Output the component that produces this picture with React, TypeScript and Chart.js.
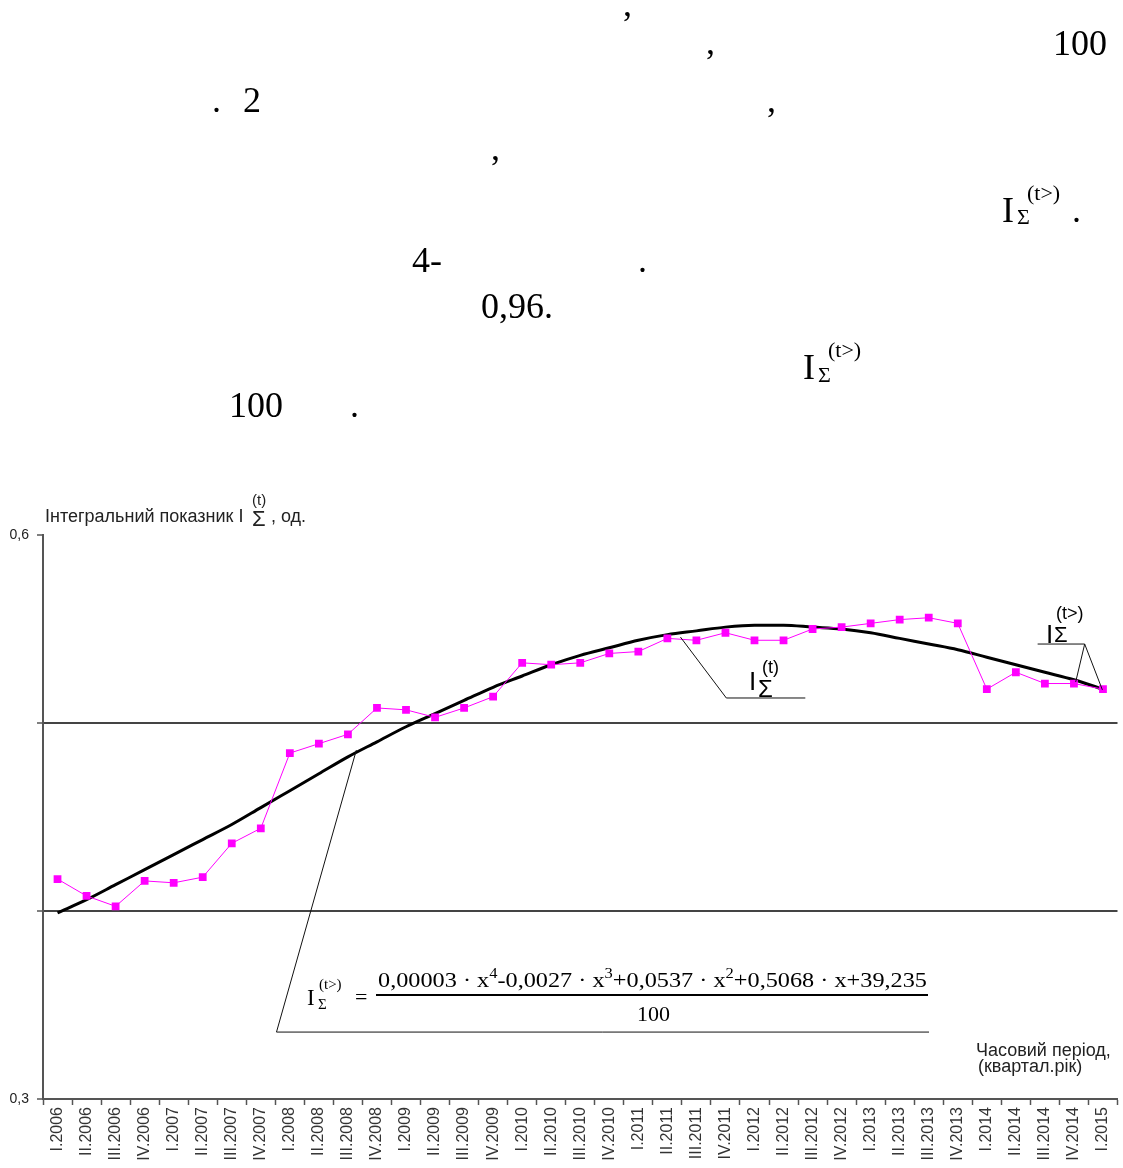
import React, { useEffect, useLayoutEffect, useRef } from 'react';
import { Chart, registerables } from 'chart.js';

Chart.register(...registerables);

// ---------- data ----------
const periodLabels = [
  'I.2006', 'II.2006', 'III.2006', 'IV.2006',
  'I.2007', 'II.2007', 'III.2007', 'IV.2007',
  'I.2008', 'II.2008', 'III.2008', 'IV.2008',
  'I.2009', 'II.2009', 'III.2009', 'IV.2009',
  'I.2010', 'II.2010', 'III.2010', 'IV.2010',
  'I.2011', 'II.2011', 'III.2011', 'IV.2011',
  'I.2012', 'II.2012', 'III.2012', 'IV.2012',
  'I.2013', 'II.2013', 'III.2013', 'IV.2013',
  'I.2014', 'II.2014', 'III.2014', 'IV.2014',
  'I.2015',
];

// I_Σ^(t) — integral indicator (magenta)
const actualIndex = [
  0.417, 0.408, 0.4025, 0.416,
  0.415, 0.418, 0.436, 0.444,
  0.484, 0.489, 0.494, 0.508,
  0.507, 0.503, 0.508, 0.514,
  0.532, 0.531, 0.532, 0.537,
  0.538, 0.545, 0.544, 0.548,
  0.544, 0.544, 0.550, 0.551,
  0.553, 0.555, 0.556, 0.553,
  0.518, 0.527, 0.521, 0.521,
  0.518,
];

// I_Σ^(t>) — 4th-degree trend (black)
const trendIndex = [
  0.399, 0.406, 0.414, 0.422,
  0.430, 0.438, 0.446, 0.455,
  0.464, 0.473, 0.482, 0.490,
  0.498, 0.505, 0.512, 0.519,
  0.525, 0.531, 0.536, 0.540,
  0.544, 0.547, 0.549, 0.551,
  0.552, 0.552, 0.551, 0.550,
  0.548, 0.545, 0.542, 0.539,
  0.535, 0.531, 0.527, 0.523,
  0.518,
];

const yMin = 0.3;
const yMax = 0.6;
const yStep = 0.1;
const yLabelledTicks = [0.3, 0.6];
const yGridTicks = [0.4, 0.5];

// callout guide lines in (category index, value) coordinates
const calloutGuides: [number, number][][] = [
  [[10.29, 0.4856], [7.54, 0.3356], [30.01, 0.3356]],
  [[21.45, 0.5457], [23.03, 0.5133], [25.75, 0.5133]],
  [[33.75, 0.542], [35.37, 0.542], [35.06, 0.5218]],
  [[35.37, 0.542], [35.98, 0.5176]],
];

// ---------- text helpers ----------
const SERIF = '"Liberation Serif", "Times New Roman", serif';
const SANS = '"Liberation Sans", Arial, sans-serif';

function topFor(b: number, size: number, font: string) {
  const serif = font === SERIF;
  const asc = serif ? 0.891 : 0.905;
  const desc = serif ? 0.216 : 0.212;
  return b - ((1 - asc - desc) / 2 + asc) * size;
}

function Txt({ x, b, size, font = SERIF, color = '#000', children, style }: any) {
  return (
    <div
      style={{
        position: 'absolute',
        left: x,
        top: topFor(b, size, font),
        fontFamily: font,
        fontSize: size,
        lineHeight: `${size}px`,
        whiteSpace: 'nowrap',
        color,
        ...style,
      }}
    >
      {children}
    </div>
  );
}

function FitText({ x, b, size, width, font = SERIF, children }: any) {
  const ref = useRef<HTMLDivElement>(null);
  useLayoutEffect(() => {
    const el = ref.current;
    if (!el) return;
    el.style.transform = 'none';
    const w = el.getBoundingClientRect().width;
    if (w > 0) el.style.transform = `scaleX(${width / w})`;
  }, [width]);
  return (
    <div
      ref={ref}
      style={{
        position: 'absolute',
        left: x,
        top: topFor(b, size, font),
        fontFamily: font,
        fontSize: size,
        lineHeight: `${size}px`,
        whiteSpace: 'nowrap',
        transformOrigin: '0 0',
        color: '#000',
      }}
    >
      {children}
    </div>
  );
}

const Sup = ({ children }: any) => (
  <span style={{ fontSize: '0.68em', position: 'relative', top: '-0.55em', lineHeight: 0 }}>{children}</span>
);

// ---------- chart ----------
function ChartCanvas() {
  const ref = useRef<HTMLCanvasElement>(null);
  useEffect(() => {
    const canvas = ref.current;
    if (!canvas) return;

    const calloutPlugin = {
      id: 'callouts',
      afterDatasetsDraw(chart: any) {
        const { ctx } = chart;
        const xs = chart.scales.x;
        const ys = chart.scales.y;
        ctx.save();
        ctx.strokeStyle = '#111';
        ctx.lineWidth = 1;
        calloutGuides.forEach((path) => {
          ctx.beginPath();
          path.forEach(([i, v], k) => {
            const px = xs.getPixelForValue(i);
            const py = ys.getPixelForValue(v);
            if (k === 0) ctx.moveTo(px, py);
            else ctx.lineTo(px, py);
          });
          ctx.stroke();
        });
        ctx.restore();
      },
    };

    const chart = new Chart(canvas, {
      type: 'line',
      data: {
        labels: periodLabels,
        datasets: [
          {
            label: 'I(t)',
            data: actualIndex,
            borderColor: '#ff00ff',
            backgroundColor: '#ff00ff',
            borderWidth: 1,
            pointStyle: 'rect',
            pointRadius: 5.5,
            pointBorderWidth: 0,
            pointBackgroundColor: '#ff00ff',
            tension: 0,
          },
          {
            label: 'I(t>)',
            data: trendIndex,
            borderColor: '#000',
            borderWidth: 3,
            pointRadius: 0,
            tension: 0.4,
            cubicInterpolationMode: 'monotone',
          },
        ],
      },
      options: {
        responsive: false,
        animation: false,
        devicePixelRatio: 1,
        layout: { padding: { left: 0, top: 535, right: 3, bottom: 0 } },
        plugins: { legend: { display: false }, tooltip: { enabled: false } },
        scales: {
          x: {
            type: 'category',
            offset: true,
            grid: {
              offset: true,
              drawOnChartArea: false,
              color: '#555',
              tickLength: 6,
              tickWidth: 1.5,
            },
            border: { display: true, color: '#555', width: 2 },
            ticks: {
              autoSkip: false,
              maxRotation: 90,
              minRotation: 90,
              padding: 2,
              color: '#333',
              font: { family: SANS, size: 16 },
            },
            afterFit: (s: any) => {
              s.height = 69;
              s.paddingLeft = 0;
              s.paddingRight = 0;
            },
          },
          y: {
            min: yMin,
            max: yMax,
            ticks: {
              stepSize: yStep,
              padding: 8,
              color: '#222',
              font: { family: SANS, size: 14 },
              callback: (v: any) => {
                const r = Math.round(Number(v) * 10) / 10;
                return yLabelledTicks.includes(r) ? r.toFixed(1).replace('.', ',') : '';
              },
            },
            grid: {
              color: (c: any) => {
                const r = Math.round(Number(c.tick?.value) * 10) / 10;
                return yGridTicks.includes(r) ? '#444' : 'rgba(0,0,0,0)';
              },
              lineWidth: 2,
              tickColor: '#555',
              tickWidth: 1.5,
              tickLength: 6,
            },
            border: { display: true, color: '#555', width: 2 },
            afterFit: (s: any) => {
              s.width = 43;
              s.paddingTop = 0;
              s.paddingBottom = 0;
            },
          },
        },
      },
      plugins: [calloutPlugin],
    } as any);

    return () => chart.destroy();
  }, []);

  return (
    <canvas
      ref={ref}
      width={1123}
      height={1168}
      style={{ position: 'absolute', left: 0, top: 0, width: 1123, height: 1168, display: 'block' }}
    />
  );
}

export default function App() {
  return (
    <div
      style={{
        position: 'absolute',
        left: 0,
        top: 0,
        width: 1123,
        height: 1168,
        overflow: 'hidden',
        background: '#fff',
      }}
    >
      <ChartCanvas />

      {/* paragraph remnants above the chart */}
      <Txt x={623} b={16} size={36}>,</Txt>
      <Txt x={706} b={54} size={36}>,</Txt>
      <Txt x={1053} b={55} size={36}>100</Txt>
      <Txt x={212} b={112} size={36}>.</Txt>
      <Txt x={243} b={112} size={36}>2</Txt>
      <Txt x={767} b={112} size={36}>,</Txt>
      <Txt x={491} b={160} size={36}>,</Txt>
      <Txt x={1002} b={222} size={36}>I</Txt>
      <Txt x={1017} b={224} size={22}>Σ</Txt>
      <Txt x={1027} b={200} size={22}>(t&gt;)</Txt>
      <Txt x={1072} b={222} size={36}>.</Txt>
      <Txt x={412} b={272} size={36}>4-</Txt>
      <Txt x={638} b={272} size={36}>.</Txt>
      <Txt x={481} b={318} size={36}>0,96.</Txt>
      <Txt x={803} b={379} size={36}>I</Txt>
      <Txt x={818} b={382} size={22}>Σ</Txt>
      <Txt x={828} b={357} size={22}>(t&gt;)</Txt>
      <Txt x={229} b={417} size={36}>100</Txt>
      <Txt x={350} b={417} size={36}>.</Txt>

      {/* y-axis title */}
      <Txt x={45} b={522} size={18} font={SANS} color="#222">Інтегральний показник I</Txt>
      <Txt x={252} b={505} size={15} font={SANS} color="#222">(t)</Txt>
      <Txt x={252} b={527} size={22} font={SANS} color="#222">Σ</Txt>
      <Txt x={271} b={522} size={18} font={SANS} color="#222">, од.</Txt>

      {/* x-axis title */}
      <Txt x={976} b={1056} size={18} font={SANS} color="#222">Часовий період,</Txt>
      <Txt x={978} b={1072} size={18} font={SANS} color="#222">(квартал.рік)</Txt>

      {/* I_Σ^(t) label */}
      <Txt x={749} b={690} size={26} font={SANS}>I</Txt>
      <Txt x={762} b={673} size={18} font={SANS}>(t)</Txt>
      <Txt x={758} b={697} size={24} font={SANS}>Σ</Txt>

      {/* I_Σ^(t>) label */}
      <Txt x={1046} b={643} size={26} font={SANS}>I</Txt>
      <Txt x={1056} b={619} size={18} font={SANS}>(t&gt;)</Txt>
      <Txt x={1054} b={643} size={22} font={SANS}>Σ</Txt>

      {/* trend formula */}
      <Txt x={307} b={1005} size={23}>I</Txt>
      <Txt x={319} b={990} size={15}>(t&gt;)</Txt>
      <Txt x={318} b={1010} size={15}>Σ</Txt>
      <Txt x={355} b={1004} size={22}>=</Txt>
      <FitText x={378} b={987} size={22} width={549}>
        0,00003 · x<Sup>4</Sup>-0,0027 · x<Sup>3</Sup>+0,0537 · x<Sup>2</Sup>+0,5068 · x+39,235
      </FitText>
      <div style={{ position: 'absolute', left: 376, top: 994, width: 552, height: 1.5, background: '#000' }} />
      <Txt x={637} b={1021} size={22}>100</Txt>
    </div>
  );
}
